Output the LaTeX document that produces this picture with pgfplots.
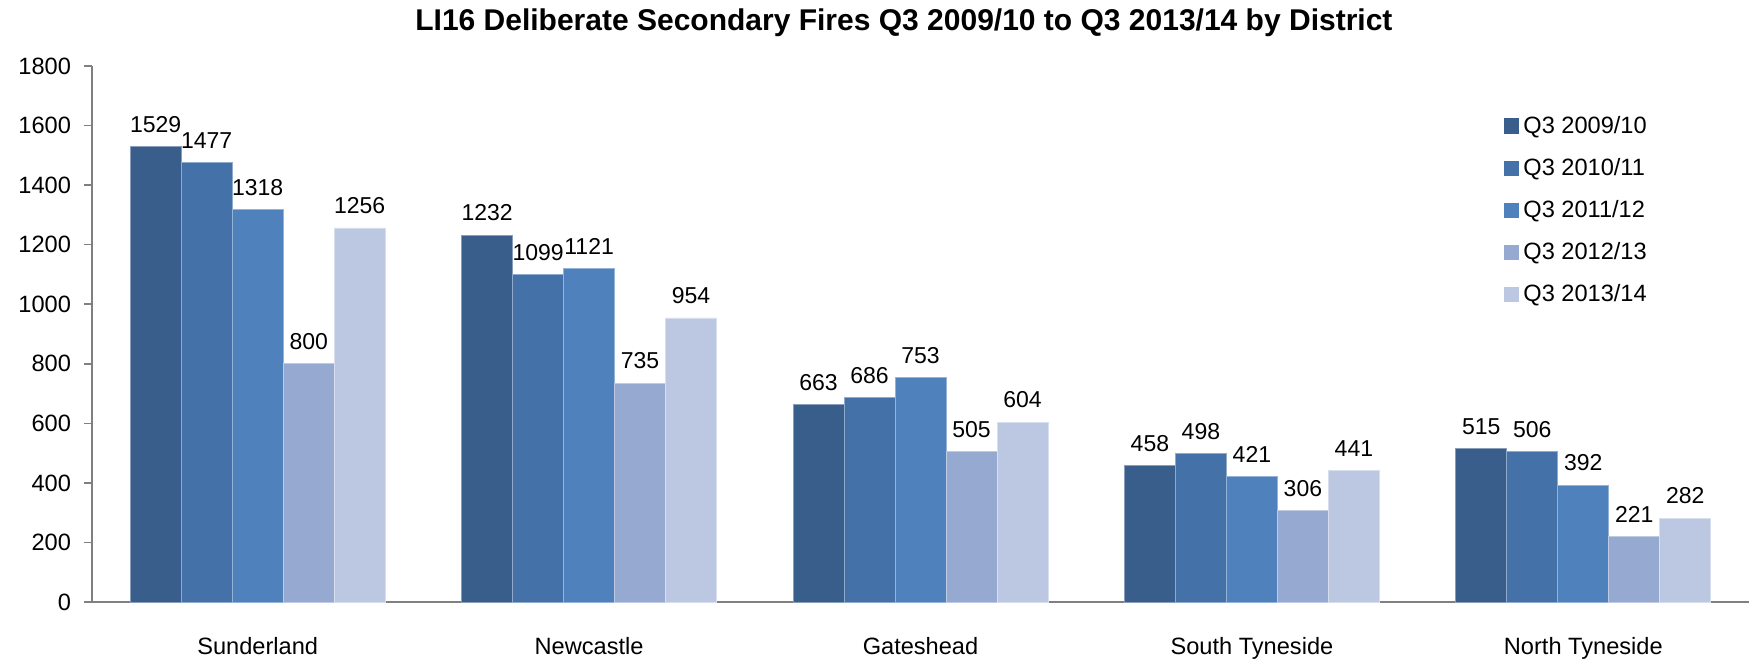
\documentclass[border=0pt]{standalone}
\usepackage{pgfplots}
\pgfplotsset{compat=1.18}
\usepackage{fontspec}
\setmainfont{Liberation Sans}

\definecolor{qa}{HTML}{3A5E8C}
\definecolor{qb}{HTML}{4472A8}
\definecolor{qc}{HTML}{4F81BD}
\definecolor{qd}{HTML}{95A9D1}
\definecolor{qe}{HTML}{BCC8E1}
\definecolor{axgray}{HTML}{808080}

\begin{document}
\begin{tikzpicture}
\path[use as bounding box] (-46pt,-29pt) rectangle (828.5pt,301pt);
\begin{axis}[
    at={(0,0)}, anchor=south west,
    scale only axis,
    width=828.5pt, height=268pt,
    ybar=0pt,
    bar width=25.5pt,
    xmin=-0.5, xmax=4.5,
    ymin=0, ymax=1800,
    ytick={0,200,...,1800},
    xtick={0,1,2,3,4},
    xticklabels={Sunderland,Newcastle,Gateshead,South Tyneside,North Tyneside},
    axis x line=bottom, axis y line=left,
    axis line style={axgray, line width=0.8pt, -},
    x axis line style={-},
    y axis line style={-},
    xtick style={draw=none},
    ytick style={axgray, line width=0.8pt},
    tick align=outside,
    major tick length=4pt,
    /pgf/number format/assume math mode=true,
    /pgf/number format/1000 sep={},
    tick label style={font=\fontsize{11.8}{14}\selectfont},
    yticklabel style={xshift=-3pt},
    xticklabel style={yshift=-10pt},
    title={LI16 Deliberate Secondary Fires Q3 2009/10 to Q3 2013/14 by District},
    title style={font=\bfseries\fontsize{15}{18}\selectfont, at={(rel axis cs:0.49,1)}, anchor=base, yshift=12pt},
    nodes near coords,
    every node near coord/.append style={font=\fontsize{11.5}{14}\selectfont, black, yshift=3.5pt},
    legend style={at={(0.852,0.915)}, anchor=north west, draw=none, fill=none,
        font=\fontsize{11.8}{14}\selectfont, row sep=7pt, inner sep=0pt},
    legend cell align=left,
    legend image code/.code={\fill[#1, draw=none] (0pt,-3.8pt) rectangle (7.6pt,3.8pt);},
]
\addplot[fill=qa, draw=qa!60!white, line width=0.4pt] coordinates {(0,1529) (1,1232) (2,663) (3,458) (4,515)};
\addplot[fill=qb, draw=qb!60!white, line width=0.4pt] coordinates {(0,1477) (1,1099) (2,686) (3,498) (4,506)};
\addplot[fill=qc, draw=qc!60!white, line width=0.4pt] coordinates {(0,1318) (1,1121) (2,753) (3,421) (4,392)};
\addplot[fill=qd, draw=qd!60!white, line width=0.4pt] coordinates {(0,800) (1,735) (2,505) (3,306) (4,221)};
\addplot[fill=qe, draw=qe!60!white, line width=0.4pt] coordinates {(0,1256) (1,954) (2,604) (3,441) (4,282)};
\legend{Q3 2009/10,Q3 2010/11,Q3 2011/12,Q3 2012/13,Q3 2013/14}
\end{axis}
\end{tikzpicture}
\end{document}
